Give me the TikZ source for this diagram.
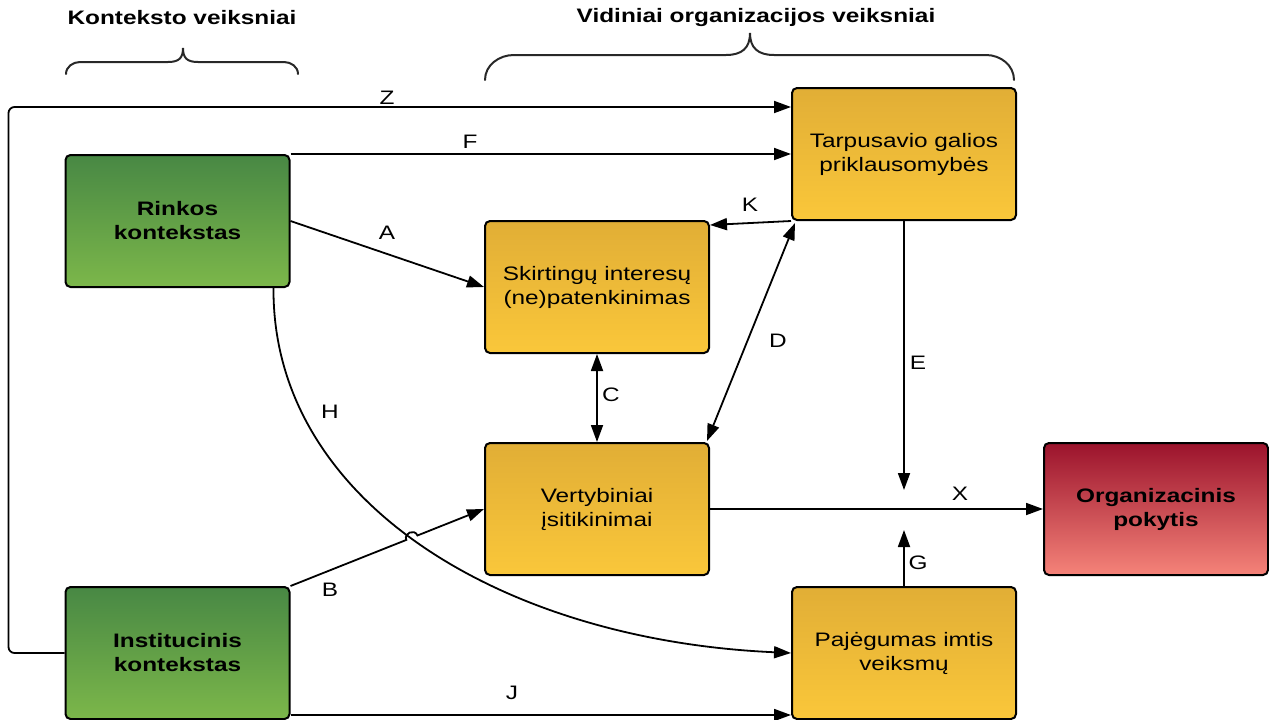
\documentclass[tikz,border=0pt]{standalone}
\usepackage{fontspec}
\setmainfont{Liberation Sans}[FakeStretch=1.25]
\usetikzlibrary{arrows.meta,calc,intersections}

\newcommand\dgfont{\fontsize{19.5}{24}\selectfont}

\definecolor{yelTop}{RGB}{225,174,54}
\definecolor{yelBot}{RGB}{250,199,58}
\definecolor{grnTop}{RGB}{72,136,68}
\definecolor{grnBot}{RGB}{124,183,74}
\definecolor{redTop}{RGB}{155,19,44}
\definecolor{redBot}{RGB}{245,131,121}
\definecolor{braceGray}{RGB}{40,40,40}

\tikzset{
  box/.style={draw=black, line width=2pt, rounded corners=5pt,
    minimum width=224pt, minimum height=132pt, inner sep=0pt,
    align=center, font=\dgfont},
  yelbox/.style={box, top color=yelTop, bottom color=yelBot},
  grnbox/.style={box, top color=grnTop, bottom color=grnBot, font=\dgfont\bfseries},
  redbox/.style={box, top color=redTop, bottom color=redBot, font=\dgfont\bfseries},
  tip/.tip={Triangle[length=17pt,width=12pt]},
  link/.style={line width=1.8pt, -tip},
  dlink/.style={line width=1.8pt, tip-tip},
  plain/.style={line width=1.8pt},
  lbl/.style={font=\dgfont, inner sep=0pt},
  head/.style={font=\dgfont\bfseries, inner sep=0pt},
  bracepath/.style={line width=2pt, draw=braceGray, line cap=round},
}

\begin{document}
\begin{tikzpicture}[x=1pt,y=1pt]
\useasboundingbox (0,0) rectangle (1269,-720);

% group headings and braces
\node[head] (hctx) at (182,-18) {Konteksto veiksniai};
\node[head] (hint) at (756,-18) {Vidiniai organizacijos veiksniai};
\draw[bracepath] (66,-74) to[out=90,in=180] (80,-62) -- (168,-62)
  .. controls (179,-62) and (183,-58) .. (183,-48)
  .. controls (183,-58) and (187,-62) .. (198,-62) -- (284,-62)
  to[out=0,in=90] (298,-74);
\draw[bracepath] (485,-80) to[out=90,in=180] (514,-55) -- (726,-55)
  .. controls (742,-55) and (750,-48) .. (750,-33)
  .. controls (750,-48) and (758,-55) .. (774,-55) -- (986,-55)
  to[out=0,in=90] (1014,-80);

% boxes
\node[grnbox] (rinkos) at (177.5,-221) {Rinkos\\kontekstas};
\node[grnbox] (inst)   at (177.5,-653) {Institucinis\\kontekstas};
\node[yelbox] (skirt)  at (597,-287) {Skirtingų interesų\\(ne)patenkinimas};
\node[yelbox] (vert)   at (597,-509) {Vertybiniai\\įsitikinimai};
\node[yelbox] (tarp)   at (904,-154) {Tarpusavio galios\\priklausomybės};
\node[yelbox] (paj)    at (904,-653) {Pajėgumas imtis\\veiksmų};
\node[redbox] (org)    at (1156,-509) {Organizacinis\\pokytis};

% free ends of E and G
\coordinate (eend) at (904,-490);
\coordinate (gend) at (904,-530);

% connectors
\draw[link, rounded corners=6pt] (inst.west) -- ++(-56,0) |- ($(tarp.north west)+(0,-20)$);
\draw[link] (rinkos.north east) -- (rinkos.north east -| tarp.west);
\draw[link] (rinkos.east) -- (skirt.west);
\draw[link] (tarp.south west) -- ($(skirt.north east)+(0,-5)$);
\draw[dlink] ($(tarp.south west)+(4,-2)$) -- ($(vert.north east)+(-3,1)$);
\draw[dlink] (skirt.south) -- (vert.north);
\draw[link] (tarp.south) -- (eend);
\draw[link] (paj.north) -- (gend);
\draw[link] (vert.east) -- (org.west);
\draw[link, name path=hpath] ($(rinkos.south east)+(-17,0)$)
  .. controls (272,-500) and (500,-640) .. (paj.west);
\path[name path=bpath] (inst.north east) -- (vert.west);
\path[name intersections={of=hpath and bpath, by=hop}];
\draw[link] (inst.north east) -- ($(hop)!6pt!(inst.north east)$)
  to[out=112,in=112,looseness=1.6] ($(hop)!6pt!(vert.west)$) -- (vert.west);
\draw[link] ($(inst.south east)+(0,5)$) -- ($(inst.south east -| paj.west)+(0,5)$);

% connector labels
\node[lbl] (lz) at (387,-98) {Z};
\node[lbl] (lf) at (470,-142) {F};
\node[lbl] (la) at (387,-233) {A};
\node[lbl] (lk) at (750,-205) {K};
\node[lbl] (ld) at (778,-341) {D};
\node[lbl] (lc) at (611,-395) {C};
\node[lbl] (le) at (918,-363) {E};
\node[lbl] (lh) at (330,-412) {H};
\node[lbl] (lb) at (330,-590) {B};
\node[lbl] (lx) at (960,-494) {X};
\node[lbl] (lg) at (918,-563) {G};
\node[lbl] (lj) at (512,-693) {J};
\end{tikzpicture}
\end{document}
